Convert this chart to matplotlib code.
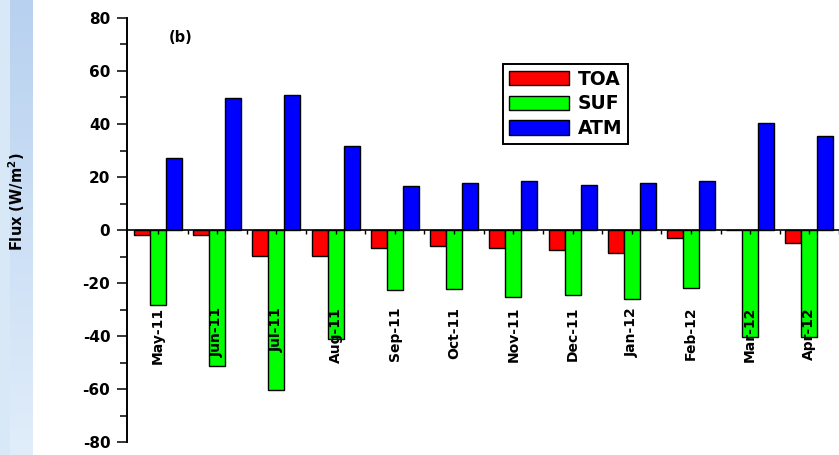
import numpy as np
import matplotlib.pyplot as plt
from matplotlib.ticker import MultipleLocator

months = ['May-11', 'Jun-11', 'Jul-11', 'Aug-11', 'Sep-11', 'Oct-11',
          'Nov-11', 'Dec-11', 'Jan-12', 'Feb-12', 'Mar-12', 'Apr-12']
toa = [-1.8, -2.0, -9.7, -9.7, -6.8, -5.9, -6.8, -7.7, -8.7, -3.0, 0.0, -4.9]
suf = [-28.2, -51.4, -60.3, -41.1, -22.5, -22.3, -25.4, -24.5, -26.0, -21.8, -40.5, -40.5]
atm = [27.2, 49.7, 51.0, 31.8, 16.7, 17.7, 18.6, 17.0, 17.7, 18.6, 40.4, 35.4]

plt.rcParams['font.family'] = ['DejaVu Sans']
plt.rcParams['axes.unicode_minus'] = False

fig = plt.figure(figsize=(8.39, 4.55), dpi=100)

# light blue slide background on the left edge
bg = fig.add_axes([0, 0, 33 / 839, 1])
top = np.array([0.72, 0.82, 0.94])
bot = np.array([0.88, 0.93, 0.98])
edge = np.array([0.85, 0.91, 0.97])
t = np.linspace(0, 1, 200)[:, None, None]
col = top + (bot - top) * t
grad = np.repeat(col, 33, axis=1)
grad[:, :10, :] = edge
bg.imshow(grad, aspect='auto', extent=(0, 1, 0, 1))
bg.axis('off')

ax = fig.add_axes([127 / 839, 13 / 455, 712 / 839, 424 / 455])
x = np.arange(len(months))
w = 0.27
kw = dict(width=w, edgecolor='black', linewidth=1.0)
ax.bar(x - w, toa, color='#ff0000', label='TOA', **kw)
ax.bar(x, suf, color='#00ff00', label='SUF', **kw)
ax.bar(x + w, atm, color='#0000ff', label='ATM', **kw)

ax.set_xlim(-0.524, 11.5)
ax.set_ylim(-80, 80)

for s in ['top', 'right']:
    ax.spines[s].set_visible(False)
ax.spines['bottom'].set_position(('data', 0))
ax.spines['left'].set_linewidth(1.4)
ax.spines['bottom'].set_linewidth(1.2)

ax.yaxis.set_major_locator(MultipleLocator(20))
ax.yaxis.set_minor_locator(MultipleLocator(10))
ax.tick_params(axis='y', which='major', length=7, width=1.1, pad=5,
               labelsize=11)
ax.tick_params(axis='y', which='minor', length=5, width=1.1)
for lbl in ax.get_yticklabels():
    lbl.set_fontweight('bold')

ax.set_xticks(x)
ax.set_xticks(x + 0.5, minor=True)
ax.set_xticklabels([])
ax.tick_params(axis='x', which='both', direction='out', length=3, width=1.0)

for xi, m in zip(x, months):
    ax.text(xi, -29, m, rotation=90, ha='center', va='top', fontsize=10,
            fontweight='bold', zorder=4)

ax.text(0.076, 0.953, '(b)', transform=ax.transAxes, fontsize=10.5,
        fontweight='bold', ha='center', va='center')

ax.set_ylabel('Flux (W/m$^\\mathbf{2}$)', fontsize=10.5, fontweight='bold')
ax.yaxis.set_label_coords(-0.14, 0.566)

leg = ax.legend(loc='upper left', bbox_to_anchor=(0.528, 0.8915),
                borderaxespad=0, prop={'weight': 'bold', 'size': 13.5},
                handlelength=3.2, handleheight=0.8, labelspacing=0.3,
                handletextpad=0.5, borderpad=0.3, fancybox=False,
                framealpha=1, edgecolor='black')
leg.get_frame().set_linewidth(1.4)

fig.savefig('out.png', dpi=100)
